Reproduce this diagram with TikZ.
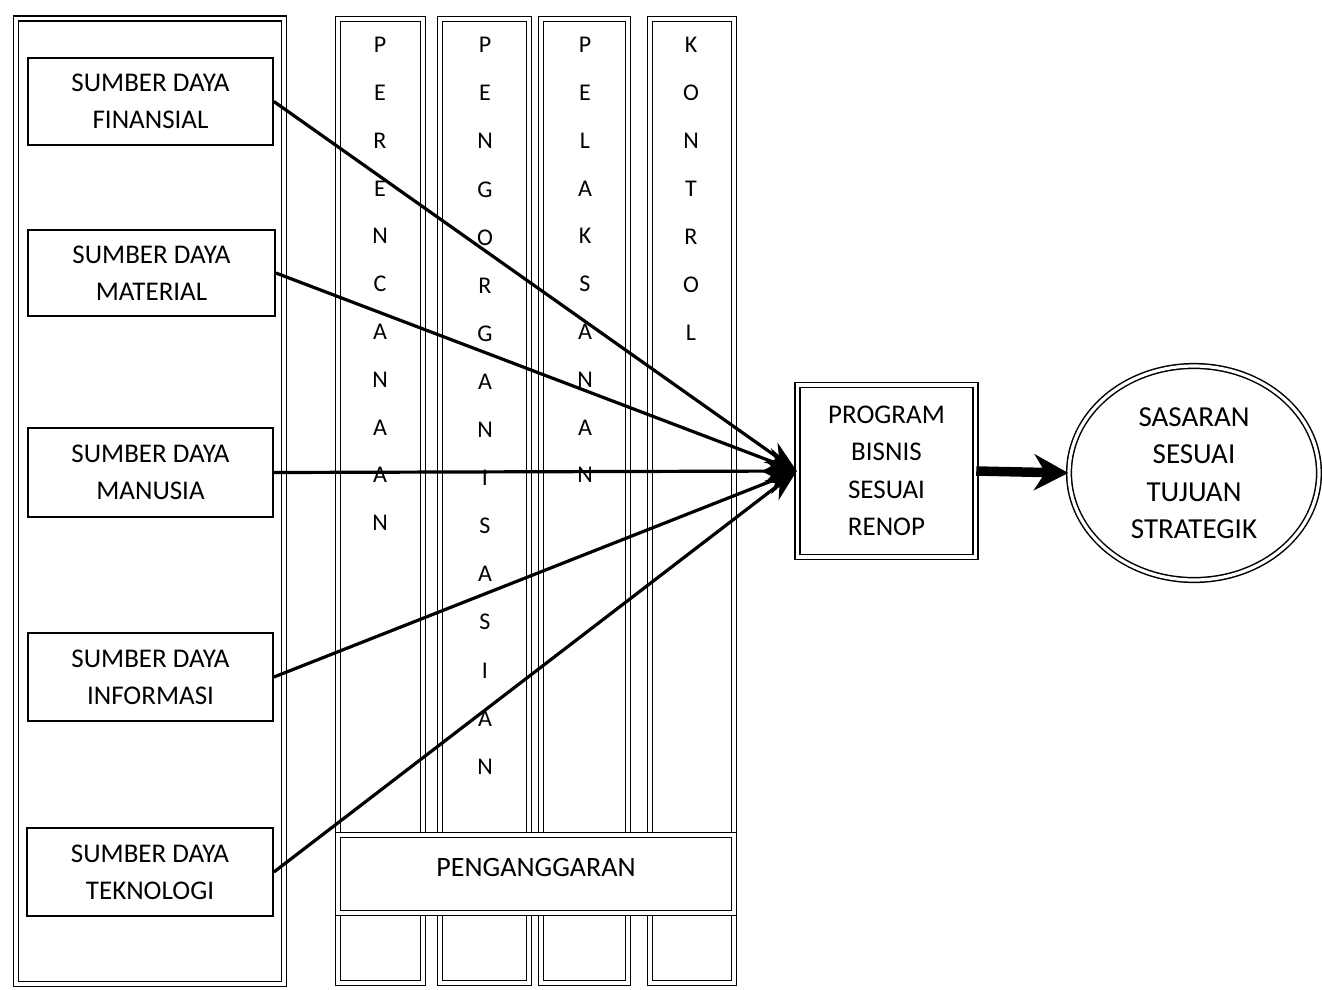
\documentclass[tikz,border=0pt]{standalone}
\usepackage{fontspec}
\setmainfont{Carlito}
\usetikzlibrary{arrows.meta,shapes.geometric}
\begin{document}
\begin{tikzpicture}[x=1pt,y=-1pt,
  dbl/.style={draw=black, line width=1.5pt, double=white, double distance=3.2pt},
  srcbox/.style={draw=black, line width=1.8pt, fill=white, minimum width=245pt,
    minimum height=87pt, align=center, inner sep=0pt,
    font=\fontsize{27}{37}\selectfont},
  letter/.style={inner sep=0pt, font=\fontsize{24}{28}\selectfont},
  feed/.style={line width=3.2pt, -{Stealth[length=32pt,width=24pt]}},
  bigarrow/.style={line width=9.5pt, -{Stealth[length=34pt,width=36pt]}},
]
\useasboundingbox (0,0) rectangle (1322,989);
\fill[white] (0,0) rectangle (1322,989);

% resource panel on the left
\draw[dbl] (16,18.5) rectangle (284,984);

% management function columns
\draw[dbl] (338,19) rectangle (423,983);
\draw[dbl] (440,19) rectangle (529,983);
\draw[dbl] (541,19) rectangle (628,983);
\draw[dbl] (650,19) rectangle (734,983);

% budgeting band across the columns
\node[dbl, fill=white, minimum width=396pt, minimum height=78pt, inner sep=0pt]
  (budget) at (536,874) {};
\node[inner sep=0pt, font=\fontsize{28}{32}\selectfont] (budgettext) at (536,867) {PENGANGGARAN};

% column letters
\foreach \ch [count=\i] in {P,E,R,E,N,C,A,N,A,A,N}
  \node[letter] (plan\i) at (380,{45+47.8*(\i-1)}) {\ch};
\foreach \ch [count=\i] in {P,E,N,G,O,R,G,A,N,I,S,A,S,I,A,N}
  \node[letter] (org\i) at (485,{45+48.1*(\i-1)}) {\ch};
\foreach \ch [count=\i] in {P,E,L,A,K,S,A,N,A,N}
  \node[letter] (exec\i) at (585,{45+47.8*(\i-1)}) {\ch};
\foreach \ch [count=\i] in {K,O,N,T,R,O,L}
  \node[letter] (ctrl\i) at (691,{45+48*(\i-1)}) {\ch};

% resource boxes
\node[srcbox] (fin) at (150.5,101.5) {SUMBER DAYA\\FINANSIAL};
\node[srcbox, minimum width=247pt, minimum height=86pt] (mat) at (151.5,273) {SUMBER DAYA\\MATERIAL};
\node[srcbox, minimum height=89pt] (man) at (150.5,472.5) {SUMBER DAYA\\MANUSIA};
\node[srcbox, minimum height=88pt] (inf) at (150.5,677) {SUMBER DAYA\\INFORMASI};
\node[srcbox, minimum width=246pt, minimum height=88pt] (tek) at (150,872) {SUMBER DAYA\\TEKNOLOGI};

% business program
\node[dbl, minimum width=178pt, minimum height=172pt, inner sep=0pt, align=center,
  font=\fontsize{27}{37.5}\selectfont] (prog) at (886.5,471) {PROGRAM\\BISNIS\\SESUAI\\RENOP};

% strategic target
\node[dbl, ellipse, minimum width=250pt, minimum height=214pt, inner sep=0pt, align=center,
  font=\fontsize{29}{37.5}\selectfont] (goal) at (1194,473) {SASARAN\\SESUAI\\TUJUAN\\STRATEGIK};

% connectors
\draw[feed] (fin.east) -- (prog.west);
\draw[feed] (mat.east) -- (prog.west);
\draw[feed] (man.east) -- (prog.west);
\draw[feed] (inf.east) -- (prog.west);
\draw[feed] (tek.east) -- (prog.west);
\draw[bigarrow] (prog.east) -- (goal.west);
\end{tikzpicture}
\end{document}
